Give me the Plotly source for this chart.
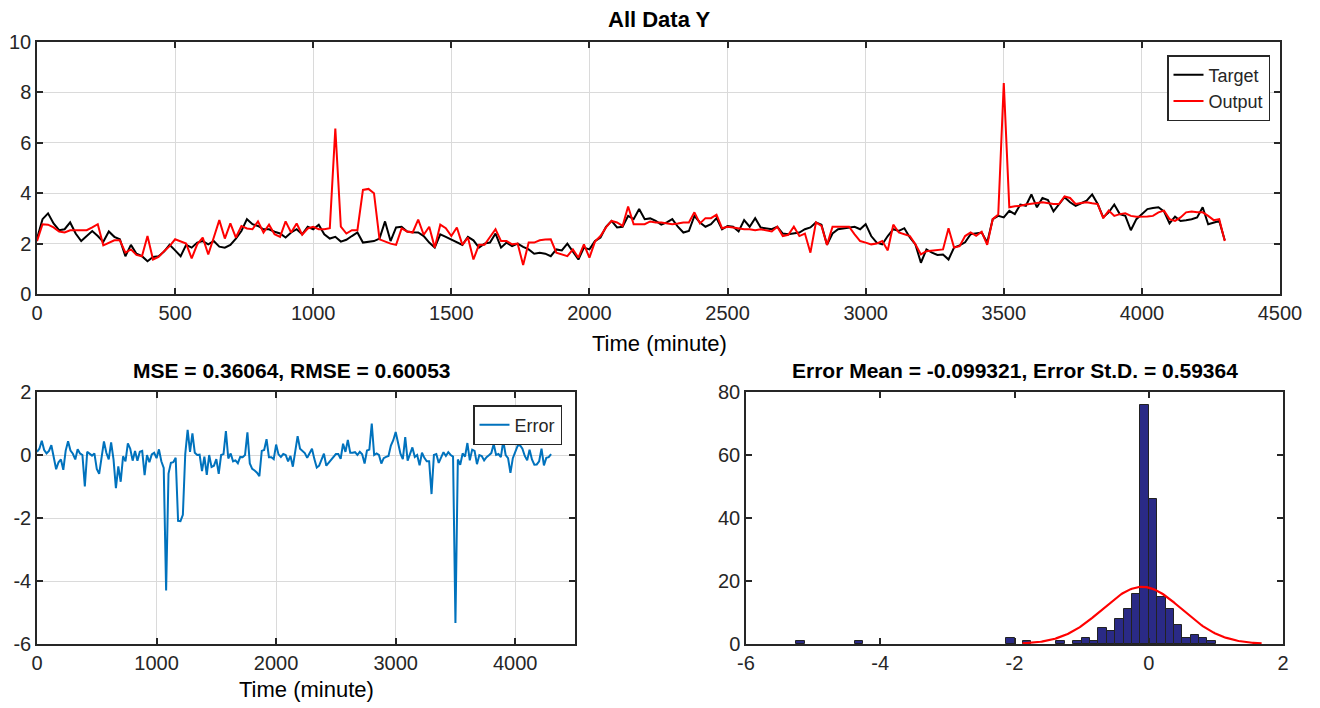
import numpy as np
import plotly.graph_objects as go

# ---------------- data ----------------
time_min = list(range(0, 4320, 20))  # 216 samples, 20-minute step

target = [
    2.2, 2.97, 3.2, 2.8, 2.53, 2.57, 2.84, 2.4, 2.1, 2.3,
    2.5, 2.3, 2.07, 2.48, 2.27, 2.17, 1.5, 1.95, 1.6, 1.5,
    1.3, 1.47, 1.5, 1.68, 1.95, 1.73, 1.5, 1.95, 1.84, 2.04,
    2.1, 1.97, 2.1, 1.88, 1.84, 1.95, 2.2, 2.5, 2.97, 2.77,
    2.7, 2.57, 2.57, 2.47, 2.4, 2.24, 2.44, 2.57, 2.37, 2.67,
    2.57, 2.75, 2.37, 2.2, 2.27, 2.08, 2.15,
    2.3, 2.44, 2.04, 2.07, 2.1, 2.2, 2.88, 2.1, 2.64, 2.67,
    2.48, 2.45, 2.44, 2.3, 2.04, 1.84, 2.37, 2.27, 2.17, 2.04,
    1.95, 2.27, 2.13, 1.84, 2.0, 2.04, 2.4, 1.84, 2.04, 1.9,
    2.0, 1.87, 1.77, 1.6, 1.64, 1.6, 1.5, 1.77, 1.73, 2.0,
    1.7, 1.37, 1.84, 1.77, 2.1, 2.24, 2.67, 2.9, 2.64, 2.67,
    3.1, 2.97, 3.37, 2.97, 3.0, 2.9,
    2.75, 2.84, 2.97, 2.67, 2.44, 2.5, 3.1, 2.84, 2.67, 2.77,
    3.01, 2.57, 2.7, 2.67, 2.48, 2.93, 2.67, 3.01, 2.64, 2.6,
    2.57, 2.67, 2.4, 2.37, 2.4, 2.44, 2.57, 2.64, 2.84, 2.75,
    1.95, 2.4, 2.57, 2.61, 2.64, 2.67, 2.57, 2.77, 2.3, 2.04,
    1.97, 2.3, 2.57, 2.5, 2.61, 2.24, 1.97, 1.24, 1.77, 1.64,
    1.55, 1.57, 1.37, 1.84, 1.93, 2.05,
    2.37, 2.4, 2.44, 2.04, 2.97, 3.1, 3.04, 3.3, 3.17, 3.55,
    3.5, 3.95, 3.44, 3.81, 3.73, 3.28, 3.57, 3.84, 3.64, 3.5,
    3.6, 3.7, 3.95, 3.57, 3.04, 3.24, 3.55, 3.17, 3.1, 2.53,
    2.97, 3.17, 3.37, 3.41, 3.44, 3.28, 2.8, 3.07, 2.9, 2.93,
    2.97, 3.04, 3.44, 2.77, 2.84, 2.9, 2.13,
]

output = [
    2.1, 2.77, 2.75, 2.64, 2.48, 2.44, 2.53, 2.53, 2.55, 2.53,
    2.64, 2.77, 1.93, 2.04, 2.13, 2.13, 1.64, 1.77, 1.55, 1.5,
    2.3, 1.37, 1.47, 1.7, 1.9, 2.17, 2.1, 2.0, 1.41, 1.97,
    2.24, 1.57, 2.24, 2.93, 2.2, 2.8, 2.24, 2.7, 2.6, 2.57,
    2.88, 2.44, 2.75, 2.37, 2.27, 2.88, 2.44, 2.8, 2.35, 2.6,
    2.67, 2.57, 2.57, 2.61, 6.57, 2.67, 2.4,
    2.53, 2.53, 4.13, 4.17, 4.0, 2.17, 2.08, 2.0, 1.95, 2.6,
    2.48, 2.44, 2.95, 2.35, 2.67, 1.84, 2.75, 2.61, 2.3, 2.64,
    1.95, 2.24, 1.37, 1.95, 1.95, 2.24, 2.57, 2.1, 2.1, 1.97,
    2.0, 1.15, 2.04, 2.04, 2.13, 2.16, 2.17, 1.64, 1.57, 1.5,
    1.77, 1.44, 1.97, 1.44, 2.08, 2.3, 2.64, 2.9, 2.84, 2.7,
    3.47, 2.77, 2.77, 2.77, 2.88, 2.84,
    2.84, 2.8, 2.77, 2.8, 2.84, 2.84, 3.24, 2.8, 3.01, 3.01,
    3.15, 2.61, 2.67, 2.64, 2.6, 2.57, 2.57, 2.53, 2.57, 2.53,
    2.48, 2.67, 2.3, 2.35, 2.67, 2.3, 2.4, 1.64, 2.84, 2.7,
    1.95, 2.67, 2.67, 2.67, 2.67, 2.37, 2.1, 2.04, 1.97, 2.0,
    2.1, 1.73, 2.75, 2.44, 2.37, 2.3, 1.97, 1.57, 1.7, 1.73,
    1.75, 1.77, 2.61, 1.84, 1.9, 2.3,
    2.44, 2.31, 2.47, 1.95, 2.97, 3.15, 8.37, 3.44, 3.48, 3.5,
    3.55, 3.57, 3.61, 3.64, 3.6, 3.57, 3.57, 3.87, 3.81, 3.57,
    3.61, 3.64, 3.6, 3.57, 3.01, 3.31, 3.1, 3.17, 3.2, 3.1,
    3.07, 3.07, 3.08, 3.1, 3.24, 3.31, 2.97, 2.9, 3.04, 3.24,
    3.27, 3.24, 3.24, 3.1, 2.93, 2.97, 2.1,
]

error = [t - o for t, o in zip(target, output)]

# histogram of errors (bin centres and counts)
hist_centers = [-5.1875, -4.3125, -2.0625, -1.8125, -1.3125, -1.0625, -0.9375,
                -0.8125, -0.6875, -0.5625, -0.4375, -0.3125, -0.1875, -0.0625,
                0.0625, 0.1875, 0.3125, 0.4375, 0.5625, 0.6875, 0.8125, 0.9375]
hist_counts = [1, 1, 2, 1, 1, 1, 2, 1, 5, 4, 8, 11, 16, 76, 46, 15, 11, 6, 2, 3, 2, 1]
bin_width = 0.125
err_mean = -0.099321
err_std = 0.59364
n_samples = 216

mse_title = "MSE = 0.36064, RMSE = 0.60053"
hist_title = "Error Mean = -0.099321, Error St.D. = 0.59364"

# normal fit (histfit-style scaling)
fit_x = np.linspace(err_mean - 3 * err_std, err_mean + 3 * err_std, 200)
fit_y = n_samples * bin_width / (err_std * np.sqrt(2 * np.pi)) * np.exp(-0.5 * ((fit_x - err_mean) / err_std) ** 2)

# ---------------- figure ----------------
# the page body has an 8px default margin, so the figure is 8px smaller
# than the window and all pixel positions are offset by 8
OFF = 8
W, H = 1320 - OFF, 708 - OFF
FONT = "Liberation Sans, Arial, Helvetica, sans-serif"


def px_x(p):
    return (p - OFF) / W


def px_y(p):
    return 1 - (p - OFF) / H


fig = go.Figure()

fig.add_trace(go.Scatter(x=time_min, y=target, mode="lines", name="Target",
                         line=dict(color="black", width=2), xaxis="x", yaxis="y", legend="legend"))
fig.add_trace(go.Scatter(x=time_min, y=output, mode="lines", name="Output",
                         line=dict(color="#ff0000", width=2), xaxis="x", yaxis="y", legend="legend"))
fig.add_trace(go.Scatter(x=time_min, y=error, mode="lines", name="Error",
                         line=dict(color="#0072BD", width=2), xaxis="x2", yaxis="y2", legend="legend2"))
fig.add_trace(go.Bar(x=hist_centers, y=hist_counts, width=bin_width, showlegend=False,
                     marker=dict(color="#2a2a86", line=dict(color="#222222", width=1)),
                     xaxis="x3", yaxis="y3"))
fig.add_trace(go.Scatter(x=fit_x, y=fit_y, mode="lines", showlegend=False,
                         line=dict(color="#ff0000", width=2.2), xaxis="x3", yaxis="y3"))

axis_common = dict(showline=True, linecolor="#262626", linewidth=1.5, mirror="ticks",
                   ticks="inside", ticklen=6, tickwidth=1.5, tickcolor="#262626",
                   zeroline=False, automargin=False,
                   tickfont=dict(size=20, color="#262626", family=FONT))
grid_on = dict(showgrid=True, gridcolor="#dadada", gridwidth=1)

top_dom_y = [px_y(294), px_y(42)]
bot_dom_y = [px_y(644), px_y(392)]

fig.update_layout(
    width=W, height=H,
    margin=dict(l=0, r=0, t=0, b=0, pad=0, autoexpand=False),
    paper_bgcolor="white", plot_bgcolor="white",
    font=dict(family=FONT, color="#262626"),
    xaxis=dict(domain=[px_x(37), px_x(1280)], range=[0, 4500], dtick=500, anchor="y",
               **axis_common, **grid_on),
    yaxis=dict(domain=top_dom_y, range=[0, 10], dtick=2, anchor="x",
               **axis_common, **grid_on),
    xaxis2=dict(domain=[px_x(37), px_x(575)], range=[0, 4500],
                tickvals=[0, 1000, 2000, 3000, 4000], anchor="y2",
                **axis_common, **grid_on),
    yaxis2=dict(domain=bot_dom_y, range=[-6, 2], tickvals=[-6, -4, -2, 0, 2],
                ticktext=["-6", "-4", "-2", "0", "2"], anchor="x2",
                **axis_common, **grid_on),
    xaxis3=dict(domain=[px_x(746), px_x(1283)], range=[-6, 2], tickvals=[-6, -4, -2, 0, 2],
                ticktext=["-6", "-4", "-2", "0", "2"], anchor="y3", showgrid=False,
                **axis_common),
    yaxis3=dict(domain=bot_dom_y, range=[0, 80], dtick=20, anchor="x3", showgrid=False,
                **axis_common),
    bargap=0,
    legend=dict(x=px_x(1270), y=px_y(55), xanchor="right", yanchor="top",
                bgcolor="white", bordercolor="#262626", borderwidth=1.5,
                font=dict(size=18, family=FONT, color="#262626"), tracegroupgap=0,
                itemwidth=30),
    legend2=dict(x=px_x(562), y=px_y(405), xanchor="right", yanchor="top",
                 bgcolor="white", bordercolor="#262626", borderwidth=1.5,
                 font=dict(size=18, family=FONT, color="#262626"), itemwidth=30),
)

annots = [
    ("<b>All Data Y</b>", 659, 20, 22),
    ("Time (minute)", 659, 343, 22),
    ("<b>" + mse_title + "</b>", 292, 370, 21),
    ("Time (minute)", 306, 689, 22),
    ("<b>" + hist_title + "</b>", 1015, 370, 21),
]
for text, x, y, size in annots:
    fig.add_annotation(text=text, x=px_x(x), y=px_y(y), xref="paper", yref="paper",
                       xanchor="center", yanchor="middle", showarrow=False,
                       font=dict(size=size, family=FONT, color="black"))

fig.write_html("out.html")
